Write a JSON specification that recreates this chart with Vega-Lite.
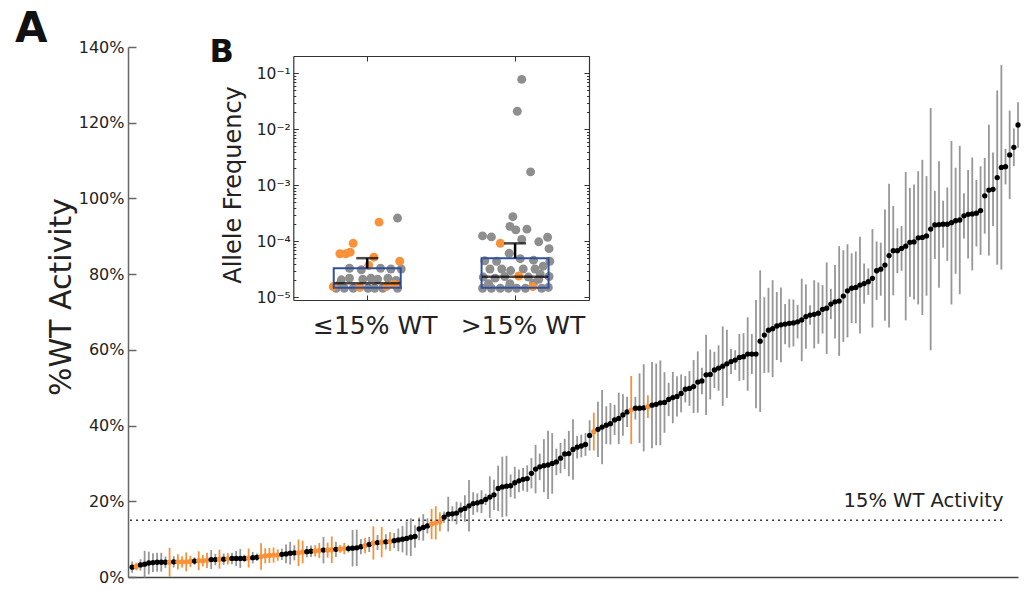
{
"$schema": "https://vega.github.io/schema/vega-lite/v6.json",
"width": 890, "height": 530,
"autosize": {"type": "none"},
"padding": {"left": 128, "top": 47, "right": 6, "bottom": 13},
"background": "white",
"config": {"view": {"stroke": null}, "font": "DejaVu Sans", "axis": {"grid": false}},
"title": {"text": "A", "anchor": "start", "frame": "group", "font": "DejaVu Sans", "fontSize": 42, "fontWeight": "bold", "color": "#111", "dx": -113, "dy": 48, "offset": 0, "baseline": "alphabetic"},
"datasets": {
"main": [
{"i":1,"v":2.6,"e":1.5,"f":0},{"i":2,"v":2.8,"e":1.0,"f":1},{"i":3,"v":3.2,"e":1.5,"f":0},{"i":4,"v":3.4,"e":3.5,"f":0},{"i":5,"v":3.7,"e":3.0,"f":0},{"i":6,"v":3.8,"e":2.5,"f":0},{"i":7,"v":3.9,"e":2.5,"f":0},{"i":8,"v":3.9,"e":2.5,"f":0},{"i":9,"v":3.9,"e":1.5,"f":0},{"i":10,"v":3.9,"e":3.8,"f":1},
{"i":11,"v":4.0,"e":1.5,"f":0},{"i":12,"v":4.0,"e":2.0,"f":1},{"i":13,"v":4.0,"e":1.5,"f":1},{"i":14,"v":4.0,"e":2.5,"f":1},{"i":15,"v":4.1,"e":1.5,"f":1},{"i":16,"v":4.2,"e":1.0,"f":0},{"i":17,"v":4.3,"e":2.5,"f":1},{"i":18,"v":4.3,"e":1.5,"f":1},{"i":19,"v":4.4,"e":2.0,"f":1},{"i":20,"v":4.6,"e":2.5,"f":0},
{"i":21,"v":4.6,"e":1.5,"f":0},{"i":22,"v":4.7,"e":2.5,"f":1},{"i":23,"v":4.7,"e":1.5,"f":0},{"i":24,"v":4.8,"e":1.5,"f":1},{"i":25,"v":4.9,"e":1.5,"f":0},{"i":26,"v":4.9,"e":2.0,"f":0},{"i":27,"v":4.9,"e":2.5,"f":0},{"i":28,"v":4.9,"e":1.0,"f":0},{"i":29,"v":5.0,"e":2.5,"f":1},{"i":30,"v":5.1,"e":1.5,"f":0},
{"i":31,"v":5.2,"e":1.0,"f":0},{"i":32,"v":5.4,"e":3.5,"f":1},{"i":33,"v":5.6,"e":2.0,"f":1},{"i":34,"v":5.7,"e":2.0,"f":1},{"i":35,"v":5.8,"e":2.0,"f":1},{"i":36,"v":5.8,"e":1.5,"f":1},{"i":37,"v":6.0,"e":1.5,"f":0},{"i":38,"v":6.1,"e":2.5,"f":0},{"i":39,"v":6.3,"e":3.0,"f":0},{"i":40,"v":6.4,"e":2.0,"f":0},
{"i":41,"v":6.4,"e":3.5,"f":1},{"i":42,"v":6.6,"e":3.0,"f":1},{"i":43,"v":6.7,"e":1.5,"f":0},{"i":44,"v":6.8,"e":1.5,"f":0},{"i":45,"v":6.9,"e":1.5,"f":1},{"i":46,"v":7.0,"e":2.0,"f":1},{"i":47,"v":7.1,"e":3.5,"f":0},{"i":48,"v":7.1,"e":2.0,"f":1},{"i":49,"v":7.2,"e":3.5,"f":1},{"i":50,"v":7.3,"e":2.0,"f":0},
{"i":51,"v":7.4,"e":1.0,"f":1},{"i":52,"v":7.5,"e":1.5,"f":1},{"i":53,"v":7.5,"e":1.0,"f":0},{"i":54,"v":7.6,"e":4.8,"f":0},{"i":55,"v":7.7,"e":4.8,"f":0},{"i":56,"v":8.0,"e":2.0,"f":0},{"i":57,"v":8.3,"e":2.0,"f":1},{"i":58,"v":8.6,"e":2.0,"f":0},{"i":59,"v":9.0,"e":4.4,"f":1},{"i":60,"v":9.1,"e":2.0,"f":0},
{"i":61,"v":9.2,"e":4.0,"f":1},{"i":62,"v":9.3,"e":2.0,"f":0},{"i":63,"v":9.4,"e":2.5,"f":1},{"i":64,"v":9.6,"e":2.0,"f":0},{"i":65,"v":9.8,"e":3.0,"f":0},{"i":66,"v":10.0,"e":3.5,"f":0},{"i":67,"v":10.2,"e":4.5,"f":0},{"i":68,"v":10.5,"e":5.0,"f":0},{"i":69,"v":10.7,"e":3.0,"f":0},{"i":70,"v":12.7,"e":3.0,"f":0},
{"i":71,"v":13.1,"e":3.5,"f":0},{"i":72,"v":13.5,"e":2.0,"f":0},{"i":73,"v":14.0,"e":4.0,"f":1},{"i":74,"v":14.3,"e":4.4,"f":1},{"i":75,"v":14.6,"e":2.5,"f":1},{"i":76,"v":15.8,"e":1.5,"f":0},{"i":77,"v":16.6,"e":4.6,"f":0},{"i":78,"v":16.7,"e":2.0,"f":0},{"i":79,"v":16.9,"e":3.0,"f":0},{"i":80,"v":17.7,"e":2.0,"f":0},
{"i":81,"v":18.1,"e":3.5,"f":0},{"i":82,"v":18.8,"e":6.8,"f":0},{"i":83,"v":19.4,"e":3.0,"f":0},{"i":84,"v":19.6,"e":2.5,"f":0},{"i":85,"v":19.9,"e":3.0,"f":0},{"i":86,"v":20.5,"e":1.5,"f":0},{"i":87,"v":21.1,"e":5.5,"f":0},{"i":88,"v":21.7,"e":4.0,"f":0},{"i":89,"v":23.4,"e":6.0,"f":0},{"i":90,"v":23.8,"e":8.0,"f":0},
{"i":91,"v":24.0,"e":8.0,"f":0},{"i":92,"v":24.1,"e":3.0,"f":0},{"i":93,"v":24.9,"e":4.2,"f":0},{"i":94,"v":25.4,"e":3.0,"f":0},{"i":95,"v":25.8,"e":3.0,"f":0},{"i":96,"v":26.0,"e":3.5,"f":0},{"i":97,"v":27.4,"e":4.0,"f":0},{"i":98,"v":28.5,"e":6.4,"f":0},{"i":99,"v":29.1,"e":3.5,"f":0},{"i":100,"v":29.4,"e":7.0,"f":0},
{"i":101,"v":29.6,"e":9.0,"f":0},{"i":102,"v":30.0,"e":8.0,"f":0},{"i":103,"v":30.4,"e":3.5,"f":0},{"i":104,"v":31.4,"e":4.0,"f":0},{"i":105,"v":32.5,"e":4.0,"f":0},{"i":106,"v":32.6,"e":6.0,"f":0},{"i":107,"v":33.7,"e":8.0,"f":0},{"i":108,"v":34.3,"e":3.0,"f":0},{"i":109,"v":34.6,"e":3.0,"f":0},{"i":110,"v":35.0,"e":3.0,"f":0},
{"i":111,"v":37.4,"e":4.0,"f":0},{"i":112,"v":38.4,"e":5.0,"f":1},{"i":113,"v":39.0,"e":7.3,"f":0},{"i":114,"v":39.6,"e":9.8,"f":0},{"i":115,"v":40.1,"e":5.0,"f":0},{"i":116,"v":40.5,"e":5.5,"f":0},{"i":117,"v":41.5,"e":4.0,"f":0},{"i":118,"v":41.9,"e":6.8,"f":0},{"i":119,"v":42.8,"e":5.5,"f":0},{"i":120,"v":43.6,"e":4.0,"f":0},
{"i":121,"v":44.1,"e":9.0,"f":1},{"i":122,"v":44.6,"e":3.0,"f":0},{"i":123,"v":44.6,"e":9.2,"f":0},{"i":124,"v":44.7,"e":11.5,"f":0},{"i":125,"v":45.0,"e":3.0,"f":1},{"i":126,"v":45.4,"e":11.4,"f":0},{"i":127,"v":45.6,"e":10.8,"f":0},{"i":128,"v":46.0,"e":11.2,"f":0},{"i":129,"v":46.1,"e":8.0,"f":0},{"i":130,"v":46.9,"e":4.4,"f":0},
{"i":131,"v":47.4,"e":6.8,"f":0},{"i":132,"v":47.7,"e":5.3,"f":0},{"i":133,"v":48.5,"e":5.0,"f":0},{"i":134,"v":49.6,"e":3.5,"f":0},{"i":135,"v":49.8,"e":4.6,"f":0},{"i":136,"v":50.3,"e":7.0,"f":0},{"i":137,"v":51.5,"e":8.1,"f":0},{"i":138,"v":51.8,"e":3.5,"f":0},{"i":139,"v":53.4,"e":10.6,"f":0},{"i":140,"v":53.5,"e":6.6,"f":0},
{"i":141,"v":54.7,"e":4.8,"f":0},{"i":142,"v":55.2,"e":6.0,"f":0},{"i":143,"v":55.7,"e":10.5,"f":0},{"i":144,"v":56.3,"e":9.0,"f":0},{"i":145,"v":56.9,"e":3.3,"f":0},{"i":146,"v":57.3,"e":2.6,"f":0},{"i":147,"v":58.0,"e":6.2,"f":0},{"i":148,"v":58.2,"e":6.2,"f":0},{"i":149,"v":58.9,"e":9.7,"f":0},{"i":150,"v":58.9,"e":5.3,"f":0},
{"i":151,"v":58.9,"e":14.3,"f":0},{"i":152,"v":62.3,"e":18.7,"f":0},{"i":153,"v":63.9,"e":10.0,"f":0},{"i":154,"v":65.2,"e":11.2,"f":0},{"i":155,"v":65.6,"e":12.8,"f":0},{"i":156,"v":66.3,"e":9.0,"f":0},{"i":157,"v":66.6,"e":9.9,"f":0},{"i":158,"v":66.8,"e":5.3,"f":0},{"i":159,"v":67.0,"e":6.4,"f":0},{"i":160,"v":67.1,"e":6.2,"f":0},
{"i":161,"v":67.4,"e":4.4,"f":0},{"i":162,"v":67.9,"e":10.9,"f":0},{"i":163,"v":68.8,"e":8.5,"f":0},{"i":164,"v":69.2,"e":2.6,"f":0},{"i":165,"v":69.4,"e":9.0,"f":0},{"i":166,"v":69.7,"e":8.1,"f":0},{"i":167,"v":70.7,"e":6.4,"f":0},{"i":168,"v":71.0,"e":12.1,"f":0},{"i":169,"v":72.1,"e":4.0,"f":0},{"i":170,"v":72.7,"e":9.7,"f":0},
{"i":171,"v":72.9,"e":14.5,"f":0},{"i":172,"v":74.2,"e":12.1,"f":0},{"i":173,"v":75.6,"e":12.3,"f":0},{"i":174,"v":76.3,"e":9.2,"f":0},{"i":175,"v":76.5,"e":9.5,"f":0},{"i":176,"v":77.1,"e":12.8,"f":0},{"i":177,"v":77.5,"e":5.3,"f":0},{"i":178,"v":78.0,"e":3.5,"f":0},{"i":179,"v":78.9,"e":13.0,"f":0},{"i":180,"v":80.9,"e":7.7,"f":0},
{"i":181,"v":81.3,"e":7.0,"f":0},{"i":182,"v":82.4,"e":14.7,"f":0},{"i":183,"v":84.9,"e":19.0,"f":0},{"i":184,"v":86.2,"e":11.8,"f":0},{"i":185,"v":86.2,"e":5.9,"f":0},{"i":186,"v":86.8,"e":5.9,"f":0},{"i":187,"v":87.4,"e":19.6,"f":0},{"i":188,"v":88.4,"e":14.4,"f":0},{"i":189,"v":88.5,"e":15.2,"f":0},{"i":190,"v":89.6,"e":17.6,"f":0},
{"i":191,"v":89.7,"e":20.5,"f":0},{"i":192,"v":90.1,"e":15.8,"f":0},{"i":193,"v":91.9,"e":32.0,"f":0},{"i":194,"v":93.0,"e":9.0,"f":0},{"i":195,"v":93.1,"e":16.7,"f":0},{"i":196,"v":93.2,"e":6.2,"f":0},{"i":197,"v":93.2,"e":9.7,"f":0},{"i":198,"v":93.6,"e":21.6,"f":0},{"i":199,"v":94.1,"e":14.0,"f":0},{"i":200,"v":94.3,"e":19.6,"f":0},
{"i":201,"v":95.4,"e":6.0,"f":0},{"i":202,"v":95.8,"e":11.7,"f":0},{"i":203,"v":95.9,"e":14.9,"f":0},{"i":204,"v":96.1,"e":8.8,"f":0},{"i":205,"v":96.8,"e":11.7,"f":0},{"i":206,"v":100.7,"e":10.0,"f":0},{"i":207,"v":102.2,"e":17.3,"f":0},{"i":208,"v":102.4,"e":9.7,"f":0},{"i":209,"v":105.5,"e":23.0,"f":0},{"i":210,"v":108.2,"e":27.0,"f":0},
{"i":211,"v":108.4,"e":4.7,"f":0},{"i":212,"v":111.5,"e":11.7,"f":0},{"i":213,"v":113.5,"e":5.0,"f":0},{"i":214,"v":119.4,"e":6.0,"f":0}
],
"af": [
{"g":"≤15% WT","j":0.41,"af":0.00026,"f":0},{"g":"≤15% WT","j":-0.24,"af":0.000033,"f":0},{"g":"≤15% WT","j":-0.08,"af":0.000031,"f":0},{"g":"≤15% WT","j":0.18,"af":0.000033,"f":0},{"g":"≤15% WT","j":0.32,"af":0.000032,"f":0},{"g":"≤15% WT","j":0.46,"af":0.000032,"f":0},
{"g":"≤15% WT","j":-0.35,"af":0.0000205,"f":0},{"g":"≤15% WT","j":-0.24,"af":0.000022,"f":0},{"g":"≤15% WT","j":-0.06,"af":0.000021,"f":0},{"g":"≤15% WT","j":0.05,"af":0.000022,"f":0},{"g":"≤15% WT","j":0.14,"af":0.000021,"f":0},{"g":"≤15% WT","j":0.28,"af":0.000022,"f":0},{"g":"≤15% WT","j":0.39,"af":0.00002,"f":0},
{"g":"≤15% WT","j":-0.42,"af":0.0000145,"f":0},{"g":"≤15% WT","j":-0.31,"af":0.0000145,"f":0},{"g":"≤15% WT","j":-0.19,"af":0.0000145,"f":0},{"g":"≤15% WT","j":0.01,"af":0.0000145,"f":0},{"g":"≤15% WT","j":0.1,"af":0.0000145,"f":0},{"g":"≤15% WT","j":0.21,"af":0.0000145,"f":0},{"g":"≤15% WT","j":0.41,"af":0.0000145,"f":0},{"g":"≤15% WT","j":-0.37,"af":0.000017,"f":0},
{"g":">15% WT","j":0.09,"af":0.078,"f":0},{"g":">15% WT","j":0.03,"af":0.021,"f":0},{"g":">15% WT","j":0.21,"af":0.00174,"f":0},{"g":">15% WT","j":-0.03,"af":0.000275,"f":0},{"g":">15% WT","j":-0.07,"af":0.000185,"f":0},{"g":">15% WT","j":0.01,"af":0.00016,"f":0},{"g":">15% WT","j":0.16,"af":0.000165,"f":0},
{"g":">15% WT","j":-0.44,"af":0.000125,"f":0},{"g":">15% WT","j":-0.32,"af":0.00012,"f":0},{"g":">15% WT","j":0.44,"af":0.000118,"f":0},{"g":">15% WT","j":0.09,"af":0.000108,"f":0},{"g":">15% WT","j":0.32,"af":0.000098,"f":0},{"g":">15% WT","j":0.46,"af":0.000074,"f":0},{"g":">15% WT","j":-0.08,"af":0.000061,"f":0},
{"g":">15% WT","j":-0.41,"af":0.000045,"f":0},{"g":">15% WT","j":-0.25,"af":0.000044,"f":0},{"g":">15% WT","j":0.07,"af":0.000049,"f":0},{"g":">15% WT","j":0.25,"af":0.000046,"f":0},{"g":">15% WT","j":0.47,"af":0.000044,"f":0},{"g":">15% WT","j":0.38,"af":0.000036,"f":0},
{"g":">15% WT","j":-0.34,"af":0.000032,"f":0},{"g":">15% WT","j":-0.18,"af":0.000032,"f":0},{"g":">15% WT","j":-0.06,"af":0.00003,"f":0},{"g":">15% WT","j":0.11,"af":0.000032,"f":0},{"g":">15% WT","j":0.27,"af":0.000032,"f":0},{"g":">15% WT","j":0.34,"af":0.000026,"f":0},
{"g":">15% WT","j":-0.43,"af":0.000023,"f":0},{"g":">15% WT","j":-0.27,"af":0.000022,"f":0},{"g":">15% WT","j":-0.14,"af":0.0000235,"f":0},{"g":">15% WT","j":0.18,"af":0.000023,"f":0},{"g":">15% WT","j":0.32,"af":0.000021,"f":0},{"g":">15% WT","j":0.46,"af":0.0000235,"f":0},
{"g":">15% WT","j":-0.36,"af":0.0000175,"f":0},{"g":">15% WT","j":-0.07,"af":0.0000175,"f":0},{"g":">15% WT","j":0.25,"af":0.000018,"f":0},
{"g":">15% WT","j":-0.44,"af":0.0000145,"f":0},{"g":">15% WT","j":-0.32,"af":0.0000145,"f":0},{"g":">15% WT","j":-0.2,"af":0.0000145,"f":0},{"g":">15% WT","j":-0.09,"af":0.0000145,"f":0},{"g":">15% WT","j":0.02,"af":0.0000145,"f":0},{"g":">15% WT","j":0.14,"af":0.0000145,"f":0},{"g":">15% WT","j":0.36,"af":0.0000145,"f":0},{"g":">15% WT","j":0.45,"af":0.000015,"f":0},
{"g":"≤15% WT","j":0.16,"af":0.00022,"f":1},{"g":"≤15% WT","j":-0.19,"af":0.000092,"f":1},{"g":"≤15% WT","j":-0.37,"af":0.00006,"f":1},{"g":"≤15% WT","j":-0.29,"af":0.00006,"f":1},{"g":"≤15% WT","j":-0.23,"af":0.000064,"f":1},{"g":"≤15% WT","j":0.09,"af":0.000052,"f":1},
{"g":"≤15% WT","j":0.44,"af":0.000044,"f":1},{"g":"≤15% WT","j":0.02,"af":0.000037,"f":1},{"g":"≤15% WT","j":-0.46,"af":0.0000155,"f":1},{"g":"≤15% WT","j":-0.1,"af":0.000015,"f":1},{"g":"≤15% WT","j":0.26,"af":0.0000155,"f":1},{"g":"≤15% WT","j":0.37,"af":0.000017,"f":1},
{"g":">15% WT","j":-0.2,"af":0.000092,"f":1},{"g":">15% WT","j":0.05,"af":0.000024,"f":1},{"g":">15% WT","j":0.24,"af":0.0000155,"f":1}
],
"box": [
{"g":"≤15% WT","q1":0.0000148,"q3":0.000033,"med":0.0000178,"up":0.00005},
{"g":">15% WT","q1":0.0000148,"q3":0.00005,"med":0.0000233,"up":0.000092}
],
"thr": [{"t": 15, "label": "15% WT Activity"}],
"panel": [{"label": "B"}]
},
"layer": [
{"data": {"name": "main"},
 "mark": {"type": "errorbar", "thickness": 1.8},
 "encoding": {
 "x": {"field": "i", "type": "quantitative", "scale": {"domain": [0, 214], "nice": false, "zero": false}, "axis": null},
 "y": {"field": "v", "type": "quantitative", "scale": {"domain": [0, 140], "nice": false}, "axis": null},
 "yError": {"field": "e"},
 "color": {"field": "f", "type": "nominal", "scale": {"domain": [0, 1], "range": ["#979797", "#f7923a"]}, "legend": null}}},
{"data": {"name": "main"},
 "mark": {"type": "circle", "size": 28, "opacity": 1},
 "encoding": {
 "x": {"field": "i", "type": "quantitative", "scale": {"domain": [0, 214], "nice": false, "zero": false},
  "axis": {"orient": "bottom", "ticks": false, "labels": false, "title": null, "domainColor": "#444", "domainWidth": 1.5}},
 "y": {"field": "v", "type": "quantitative", "scale": {"domain": [0, 140], "nice": false},
  "axis": {"orient": "left", "values": [0,20,40,60,80,100,120,140], "labelExpr": "datum.value + '%'", "title": "%WT Activity", "titleFontSize": 30, "titleFontWeight": "normal", "titleColor": "#222", "titleX": -58, "titleY": 249.5, "titleAlign": "center", "titleBaseline": "alphabetic", "titleAngle": 270, "tickSize": -8, "labelPadding": 12, "labelFontSize": 16, "labelColor": "#222", "domainColor": "#666", "tickColor": "#666", "domainWidth": 1.5, "tickWidth": 1.5}},
 "fill": {"field": "f", "type": "nominal", "scale": {"domain": [0, 1], "range": ["#000000", "#f7923a"]}, "legend": null}}},
{"data": {"name": "thr"},
 "mark": {"type": "rule", "strokeDash": [2, 4], "color": "#333", "strokeWidth": 1.5},
 "encoding": {
 "y": {"field": "t", "type": "quantitative", "scale": {"domain": [0, 140], "nice": false}, "axis": null},
 "x": {"datum": 0.5, "type": "quantitative", "scale": {"domain": [0, 214], "nice": false, "zero": false}, "axis": null},
 "x2": {"datum": 210.7}}},
{"data": {"name": "thr"},
 "mark": {"type": "text", "align": "right", "baseline": "alphabetic", "fontSize": 19.5, "color": "#222", "font": "DejaVu Sans"},
 "encoding": {
 "x": {"datum": 210.5, "type": "quantitative", "scale": {"domain": [0, 214], "nice": false, "zero": false}, "axis": null},
 "y": {"datum": 18.5, "type": "quantitative", "scale": {"domain": [0, 140], "nice": false}, "axis": null},
 "text": {"field": "label"}}},
{"data": {"name": "panel"},
 "mark": {"type": "text", "align": "left", "baseline": "alphabetic", "fontSize": 32, "fontWeight": "bold", "color": "#111", "font": "DejaVu Sans"},
 "encoding": {
 "x": {"datum": 19.6, "type": "quantitative", "scale": {"domain": [0, 214], "nice": false, "zero": false}, "axis": null},
 "y": {"datum": 136, "type": "quantitative", "scale": {"domain": [0, 140], "nice": false}, "axis": null},
 "text": {"field": "label"}}},
{"data": {"name": "af"},
 "mark": {"type": "circle", "size": 80, "opacity": 1},
 "encoding": {
 "x": {"field": "g", "type": "nominal", "scale": {"type": "band", "domain": ["≤15% WT", ">15% WT"], "range": [165.3, 461], "paddingInner": 0, "paddingOuter": 0},
  "axis": {"orient": "bottom", "offset": -277, "title": null, "labelAngle": 0, "labelFontSize": 25, "labelColor": "#222", "labelPadding": 18, "labelOffset": 8, "tickSize": -5, "domainColor": "#333", "tickColor": "#333", "domainWidth": 1.2}},
 "xOffset": {"field": "j", "type": "quantitative", "scale": {"domain": [-1, 1]}},
 "y": {"field": "af", "type": "quantitative", "scale": {"type": "log", "domain": [0.00000895, 0.204], "range": [253, 9], "nice": false},
  "axis": {"orient": "left", "offset": -165.3, "values": [0.00001,0.00002,0.00003,0.00004,0.00005,0.00006,0.00007,0.00008,0.00009,0.0001,0.0002,0.0003,0.0004,0.0005,0.0006,0.0007,0.0008,0.0009,0.001,0.002,0.003,0.004,0.005,0.006,0.007,0.008,0.009,0.01,0.02,0.03,0.04,0.05,0.06,0.07,0.08,0.09,0.1,0.2],
   "labelExpr": "abs(log(datum.value)/LN10 - round(log(datum.value)/LN10)) < 0.001 ? '10' + ['⁰','⁻¹','⁻²','⁻³','⁻⁴','⁻⁵'][-round(log(datum.value)/LN10)] : ''",
   "tickSize": {"condition": {"test": "abs(log(datum.value)/LN10 - round(log(datum.value)/LN10)) < 0.001", "value": -5}, "value": -2.5},
   "labelPadding": 8, "labelFontSize": 15.5, "labelColor": "#222", "labelOverlap": false,
   "title": "Allele Frequency", "titleFontSize": 24, "titleFontWeight": "normal", "titleColor": "#222", "titleX": -52.3, "titleY": 137.5, "titleAlign": "center", "titleBaseline": "alphabetic", "titleAngle": 270,
   "domainColor": "#333", "tickColor": "#333", "domainWidth": 1.2}},
 "fill": {"field": "f", "type": "nominal", "scale": {"domain": [0, 1], "range": ["#8e8e8e", "#f7923a"]}, "legend": null}}},
{"data": {"name": "box"},
 "mark": {"type": "bar", "fill": "transparent", "stroke": "#3050a0", "strokeWidth": 2, "width": 67},
 "encoding": {
 "x": {"field": "g", "type": "nominal", "scale": {"type": "band", "domain": ["≤15% WT", ">15% WT"], "range": [165.3, 461], "paddingInner": 0, "paddingOuter": 0},
  "axis": {"orient": "top", "offset": -9, "labels": false, "title": null, "tickSize": -5, "domainColor": "#333", "tickColor": "#333", "domainWidth": 1.2}},
 "y": {"field": "q1", "type": "quantitative", "scale": {"type": "log", "domain": [0.00000895, 0.204], "range": [253, 9], "nice": false},
  "axis": {"orient": "right", "offset": -429, "labels": false, "title": null, "values": [0.00001,0.00002,0.00003,0.00004,0.00005,0.00006,0.00007,0.00008,0.00009,0.0001,0.0002,0.0003,0.0004,0.0005,0.0006,0.0007,0.0008,0.0009,0.001,0.002,0.003,0.004,0.005,0.006,0.007,0.008,0.009,0.01,0.02,0.03,0.04,0.05,0.06,0.07,0.08,0.09,0.1,0.2],
  "tickSize": {"condition": {"test": "abs(log(datum.value)/LN10 - round(log(datum.value)/LN10)) < 0.001", "value": -5}, "value": -2.5},
  "domainColor": "#333", "tickColor": "#333", "domainWidth": 1.2}},
 "y2": {"field": "q3"}}},
{"data": {"name": "box"},
 "mark": {"type": "tick", "color": "#000", "thickness": 2.5, "size": 66},
 "encoding": {
 "x": {"field": "g", "type": "nominal", "scale": {"type": "band", "domain": ["≤15% WT", ">15% WT"], "range": [165.3, 461], "paddingInner": 0, "paddingOuter": 0}, "axis": null},
 "y": {"field": "med", "type": "quantitative", "scale": {"type": "log", "domain": [0.00000895, 0.204], "range": [253, 9], "nice": false}, "axis": null}}},
{"data": {"name": "box"},
 "mark": {"type": "rule", "color": "#000", "strokeWidth": 2.5},
 "encoding": {
 "x": {"field": "g", "type": "nominal", "scale": {"type": "band", "domain": ["≤15% WT", ">15% WT"], "range": [165.3, 461], "paddingInner": 0, "paddingOuter": 0}, "axis": null},
 "y": {"field": "q3", "type": "quantitative", "scale": {"type": "log", "domain": [0.00000895, 0.204], "range": [253, 9], "nice": false}, "axis": null},
 "y2": {"field": "up"}}},
{"data": {"name": "box"},
 "mark": {"type": "tick", "color": "#000", "thickness": 2.5, "size": 22},
 "encoding": {
 "x": {"field": "g", "type": "nominal", "scale": {"type": "band", "domain": ["≤15% WT", ">15% WT"], "range": [165.3, 461], "paddingInner": 0, "paddingOuter": 0}, "axis": null},
 "y": {"field": "up", "type": "quantitative", "scale": {"type": "log", "domain": [0.00000895, 0.204], "range": [253, 9], "nice": false}, "axis": null}}}
],
"resolve": {"scale": {"x": "independent", "y": "independent", "fill": "independent", "color": "independent"}}
}
